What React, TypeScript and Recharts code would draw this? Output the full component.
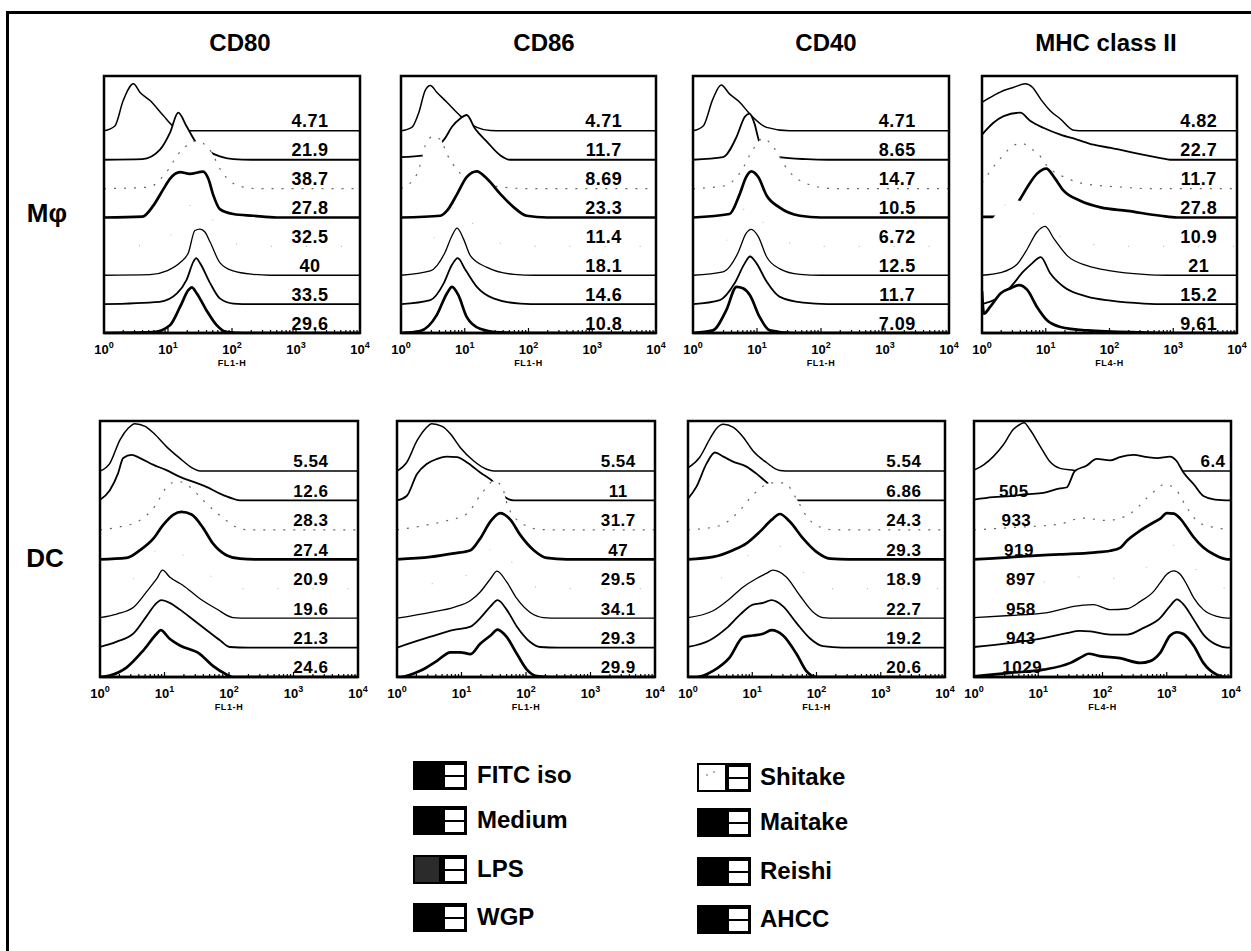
import React from 'react';
import { ComposedChart, Area, XAxis, YAxis, ReferenceDot, ReferenceArea } from 'recharts';

type Pt = [number, number];

const treatments = ['FITC iso', 'Medium', 'LPS', 'WGP', 'Shitake', 'Maitake', 'Reishi', 'AHCC'];
const markers = ['CD80', 'CD86', 'CD40', 'MHC class II'];
const channels = ['FL1-H', 'FL1-H', 'FL1-H', 'FL4-H'];
const cellTypes = ['Mφ', 'DC'];
const decades = [0, 1, 2, 3, 4];

// each curve: [log10 fluorescence, height in band units], listed top (FITC iso) to bottom (AHCC)
const mphCd80: Pt[][] = [
  [[0, 0], [0.17, 0.17], [0.3, 1.05], [0.46, 1.63], [0.56, 1.34], [0.72, 1.05], [0.93, 0.52], [1.08, 0.17], [1.34, 0], [4, 0]],
  [[0, 0], [0.6, 0.02], [0.875, 0.35], [1.03, 0.93], [1.16, 1.63], [1.29, 1.16], [1.45, 0.56], [1.63, 0.29], [1.81, 0.12], [2.02, 0.02], [2.3, 0], [4, 0]],
  [[0, 0], [0.7, 0.05], [0.95, 0.5], [1.2, 1.3], [1.45, 1.65], [1.65, 1.35], [1.85, 0.55], [2.1, 0.1], [2.4, 0], [4, 0]],
  [[0, 0], [0.6, 0.03], [0.77, 0.41], [0.93, 0.99], [1.03, 1.34], [1.19, 1.57], [1.34, 1.51], [1.55, 1.59], [1.63, 1.34], [1.71, 0.76], [1.81, 0.29], [2.02, 0.12], [2.33, 0.06], [2.7, 0], [4, 0]],
  [[0, 0], [0.8, 0.05], [1.05, 0.4], [1.25, 1.1], [1.45, 1.6], [1.6, 1.3], [1.8, 0.5], [2.05, 0.1], [2.4, 0], [4, 0]],
  [[0, 0], [0.72, 0.02], [0.98, 0.15], [1.19, 0.44], [1.32, 0.79], [1.42, 1.55], [1.5, 1.6], [1.58, 1.49], [1.66, 1.14], [1.81, 0.44], [2.02, 0.15], [2.33, 0.03], [2.6, 0], [4, 0]],
  [[0, 0], [0.87, 0.08], [1.14, 0.37], [1.29, 0.84], [1.4, 1.48], [1.44, 1.59], [1.5, 1.42], [1.66, 0.72], [1.81, 0.2], [2.02, 0.02], [2.3, 0], [4, 0]],
  [[0, 0], [0.77, 0.03], [1.03, 0.27], [1.19, 0.91], [1.32, 1.49], [1.37, 1.58], [1.45, 1.37], [1.6, 0.79], [1.76, 0.27], [1.92, 0.03], [2.2, 0], [4, 0]],
];
const mphCd80Labels = ['4.71', '21.9', '38.7', '27.8', '32.5', '40', '33.5', '29.6'];

const mphCd86: Pt[][] = [
  [[0, 0], [0.17, 0.12], [0.28, 0.64], [0.38, 1.4], [0.46, 1.57], [0.56, 1.34], [0.72, 0.99], [0.93, 0.52], [1.19, 0.12], [1.4, 0.01], [1.6, 0], [4, 0]],
  [[0, 0.09], [0.36, 0.15], [0.55, 0.4], [0.69, 0.74], [0.8, 1.14], [0.93, 1.43], [1.03, 1.55], [1.16, 1.08], [1.35, 0.62], [1.56, 0.15], [1.71, 0], [4, 0]],
  [[0, 0], [0.25, 0.5], [0.4, 1.6], [0.5, 1.8], [0.62, 1.7], [0.72, 1.2], [0.9, 0.6], [1.2, 0.2], [1.6, 0.05], [2, 0], [4, 0]],
  [[0, 0], [0.62, 0.06], [0.72, 0.23], [0.88, 0.81], [1.03, 1.4], [1.19, 1.6], [1.35, 1.34], [1.56, 0.81], [1.77, 0.35], [1.97, 0.06], [2.29, 0], [4, 0]],
  [[0, 0], [0.4, 0.1], [0.65, 0.7], [0.8, 1.3], [0.9, 1.55], [1.0, 1.3], [1.15, 0.7], [1.4, 0.25], [1.8, 0.03], [2.2, 0], [4, 0]],
  [[0, 0], [0.46, 0.15], [0.69, 0.79], [0.8, 1.37], [0.88, 1.63], [0.98, 1.26], [1.09, 0.67], [1.35, 0.27], [1.77, 0.03], [2.1, 0], [4, 0]],
  [[0, 0], [0.46, 0.14], [0.67, 0.72], [0.8, 1.36], [0.89, 1.59], [1.01, 1.19], [1.19, 0.6], [1.45, 0.2], [1.87, 0.02], [2.2, 0], [4, 0]],
  [[0, 0], [0.3, 0.07], [0.56, 0.62], [0.72, 1.37], [0.8, 1.6], [0.9, 1.31], [1.03, 0.56], [1.24, 0.15], [1.56, 0.02], [1.9, 0], [4, 0]],
];
const mphCd86Labels = ['4.71', '11.7', '8.69', '23.3', '11.4', '18.1', '14.6', '10.8'];

const mphCd40: Pt[][] = [
  [[0, 0], [0.16, 0.17], [0.31, 1.1], [0.44, 1.59], [0.57, 1.28], [0.73, 0.99], [0.89, 0.58], [1.15, 0.12], [1.51, 0], [4, 0]],
  [[0, 0], [0.47, 0.09], [0.68, 0.79], [0.81, 1.49], [0.88, 1.6], [0.96, 1.26], [1.03, 0.67], [1.17, 0.27], [1.35, 0.09], [1.77, 0.02], [2.1, 0], [4, 0]],
  [[0, 0], [0.5, 0.1], [0.75, 0.6], [0.95, 1.4], [1.1, 1.75], [1.25, 1.45], [1.5, 0.6], [1.8, 0.15], [2.2, 0], [4, 0]],
  [[0, 0], [0.57, 0.12], [0.73, 0.81], [0.83, 1.4], [0.91, 1.6], [1.02, 1.4], [1.15, 0.76], [1.35, 0.35], [1.67, 0.06], [2, 0], [4, 0]],
  [[0, 0], [0.45, 0.1], [0.68, 0.7], [0.82, 1.4], [0.9, 1.55], [1.0, 1.25], [1.15, 0.6], [1.4, 0.2], [1.8, 0.02], [2.2, 0], [4, 0]],
  [[0, 0], [0.47, 0.12], [0.7, 0.76], [0.83, 1.45], [0.91, 1.59], [1.02, 1.34], [1.15, 0.64], [1.35, 0.23], [1.67, 0.03], [2, 0], [4, 0]],
  [[0, 0], [0.42, 0.14], [0.65, 0.72], [0.81, 1.42], [0.89, 1.65], [0.99, 1.42], [1.15, 0.78], [1.35, 0.26], [1.72, 0.05], [2.1, 0], [4, 0]],
  [[0, 0], [0.31, 0.09], [0.52, 0.79], [0.68, 1.6], [0.78, 1.55], [0.89, 1.31], [1.04, 0.56], [1.2, 0.09], [1.56, 0], [4, 0]],
];
const mphCd40Labels = ['4.71', '8.65', '14.7', '10.5', '6.72', '12.5', '11.7', '7.09'];

const mphMhc: Pt[][] = [
  [[0, 0.99], [0.18, 1.22], [0.34, 1.4], [0.5, 1.51], [0.68, 1.63], [0.79, 1.51], [0.92, 1.1], [1.07, 0.7], [1.23, 0.41], [1.44, 0.02], [1.6, 0], [4, 0]],
  [[0, 0.87], [0.18, 1.28], [0.34, 1.51], [0.6, 1.63], [0.76, 1.34], [0.97, 1.1], [1.23, 0.87], [1.49, 0.7], [1.75, 0.52], [2.02, 0.41], [2.28, 0.29], [2.54, 0.17], [2.8, 0.06], [2.95, 0], [4, 0]],
  [[0, 0.2], [0.29, 1.05], [0.5, 1.5], [0.63, 1.57], [0.75, 1.4], [0.89, 1.19], [0.99, 0.87], [1.34, 0.35], [1.6, 0.17], [2.2, 0.05], [2.6, 0], [4, 0]],
  [[0, 0.02], [0.24, 0.02], [0.4, 0.2], [0.58, 0.58], [0.71, 1.05], [0.86, 1.51], [1.01, 1.69], [1.13, 1.4], [1.28, 0.93], [1.54, 0.58], [1.86, 0.35], [2.28, 0.23], [2.8, 0.06], [3.06, 0], [4, 0]],
  [[0, 0.5], [0.2, 1.05], [0.4, 1.5], [0.55, 1.6], [0.7, 1.4], [0.9, 0.9], [1.1, 0.5], [1.4, 0.2], [1.8, 0.05], [2.2, 0], [4, 0]],
  [[0, 0], [0.29, 0.09], [0.55, 0.38], [0.71, 0.91], [0.86, 1.49], [0.99, 1.69], [1.13, 1.26], [1.34, 0.67], [1.65, 0.33], [2.02, 0.15], [2.54, 0.03], [2.9, 0], [4, 0]],
  [[0, 0], [0.24, 0.2], [0.45, 0.6], [0.65, 1.13], [0.79, 1.42], [0.92, 1.63], [1.07, 1.07], [1.28, 0.6], [1.65, 0.26], [2.02, 0.12], [2.54, 0.02], [2.9, 0], [4, 0]],
  [[0, 1.45], [0.03, 0.67], [0.13, 0.91], [0.29, 1.37], [0.45, 1.55], [0.58, 1.66], [0.71, 1.49], [0.86, 0.91], [1.02, 0.44], [1.23, 0.21], [1.65, 0.09], [2.5, 0.02], [3, 0], [4, 0]],
];
const mphMhcLabels = ['4.82', '22.7', '11.7', '27.8', '10.9', '21', '15.2', '9.61'];

const dcCd80: Pt[][] = [
  [[0, 0], [0.15, 0.25], [0.31, 1.06], [0.44, 1.46], [0.54, 1.61], [0.7, 1.52], [0.83, 1.29], [1.03, 0.83], [1.24, 0.43], [1.45, 0.08], [1.55, 0], [4, 0]],
  [[0, 0.02], [0.15, 0.34], [0.28, 0.92], [0.36, 1.44], [0.49, 1.55], [0.62, 1.44], [0.83, 1.21], [1.03, 1.03], [1.24, 0.8], [1.45, 0.63], [1.65, 0.46], [1.86, 0.23], [2.06, 0.06], [2.17, 0], [4, 0]],
  [[0, 0], [0.3, 0.1], [0.6, 0.3], [0.85, 0.8], [1.05, 1.5], [1.2, 1.65], [1.4, 1.45], [1.6, 1.0], [1.8, 0.6], [2.0, 0.25], [2.2, 0.02], [2.4, 0], [4, 0]],
  [[0, 0], [0.41, 0.05], [0.62, 0.31], [0.83, 0.71], [0.98, 1.17], [1.14, 1.52], [1.26, 1.61], [1.42, 1.52], [1.6, 1.06], [1.75, 0.54], [1.96, 0.14], [2.17, 0.02], [2.4, 0], [4, 0]],
  [[0, 0], [0.3, 0.1], [0.55, 0.4], [0.75, 0.95], [0.92, 1.45], [1.0, 1.55], [1.15, 1.35], [1.35, 1.05], [1.6, 0.6], [1.85, 0.25], [2.1, 0.02], [2.3, 0], [4, 0]],
  [[0, 0.02], [0.26, 0.14], [0.52, 0.37], [0.72, 0.89], [0.88, 1.34], [0.97, 1.63], [1.08, 1.4], [1.29, 1.11], [1.55, 0.66], [1.81, 0.31], [2.06, 0.02], [2.3, 0], [4, 0]],
  [[0, 0.02], [0.26, 0.2], [0.52, 0.48], [0.72, 1.06], [0.88, 1.52], [0.95, 1.61], [1.08, 1.52], [1.24, 1.29], [1.45, 0.94], [1.65, 0.6], [1.86, 0.25], [2.01, 0.02], [2.3, 0], [4, 0]],
  [[0, 0], [0.15, 0.05], [0.41, 0.32], [0.67, 0.9], [0.88, 1.47], [0.94, 1.59], [1.08, 1.3], [1.24, 1.07], [1.55, 0.78], [1.75, 0.38], [1.96, 0.09], [2.06, 0], [4, 0]],
];
const dcCd80Labels = ['5.54', '12.6', '28.3', '27.4', '20.9', '19.6', '21.3', '24.6'];

const dcCd86: Pt[][] = [
  [[0, 0], [0.15, 0.29], [0.31, 1.03], [0.44, 1.44], [0.54, 1.61], [0.7, 1.52], [0.83, 1.26], [0.98, 0.8], [1.19, 0.34], [1.39, 0.06], [1.5, 0], [4, 0]],
  [[0, 0], [0.15, 0.15], [0.31, 0.9], [0.46, 1.24], [0.62, 1.41], [0.77, 1.49], [0.93, 1.47], [1.08, 1.3], [1.29, 0.95], [1.52, 0.57], [1.65, 0.15], [1.81, 0], [4, 0]],
  [[0, 0], [0.4, 0.14], [0.77, 0.31], [1.08, 0.54], [1.3, 1.2], [1.5, 1.65], [1.62, 1.5], [1.72, 0.8], [1.95, 0.2], [2.2, 0.02], [2.4, 0], [4, 0]],
  [[0, 0], [0.52, 0.08], [0.88, 0.2], [1.14, 0.31], [1.29, 0.71], [1.45, 1.29], [1.6, 1.57], [1.76, 1.34], [1.91, 0.83], [2.12, 0.31], [2.32, 0.05], [2.63, 0], [4, 0]],
  [[0, 0], [0.5, 0.15], [0.9, 0.35], [1.15, 0.55], [1.3, 0.9], [1.45, 1.35], [1.56, 1.55], [1.7, 1.2], [1.86, 0.6], [2.06, 0.15], [2.3, 0], [4, 0]],
  [[0, 0], [0.52, 0.2], [0.88, 0.37], [1.14, 0.6], [1.29, 0.89], [1.45, 1.34], [1.55, 1.6], [1.7, 1.23], [1.86, 0.66], [2.06, 0.2], [2.27, 0.02], [2.5, 0], [4, 0]],
  [[0, 0], [0.52, 0.37], [0.88, 0.6], [1.14, 0.71], [1.29, 1.0], [1.45, 1.4], [1.56, 1.61], [1.7, 1.29], [1.86, 0.71], [2.06, 0.2], [2.22, 0.02], [2.5, 0], [4, 0]],
  [[0, 0], [0.05, 0], [0.36, 0.21], [0.62, 0.55], [0.83, 0.84], [0.98, 0.84], [1.14, 0.78], [1.29, 1.13], [1.45, 1.41], [1.56, 1.61], [1.7, 1.36], [1.86, 0.78], [2.01, 0.26], [2.17, 0.03], [2.4, 0], [4, 0]],
];
const dcCd86Labels = ['5.54', '11', '31.7', '47', '29.5', '34.1', '29.3', '29.9'];

const dcCd40: Pt[][] = [
  [[0, 0.11], [0.18, 0.46], [0.34, 1.09], [0.44, 1.44], [0.55, 1.59], [0.7, 1.49], [0.86, 1.15], [1.01, 0.69], [1.22, 0.29], [1.43, 0.02], [1.6, 0], [4, 0]],
  [[0, 0.06], [0.13, 0.46], [0.29, 1.26], [0.42, 1.63], [0.55, 1.49], [0.7, 1.32], [0.91, 1.15], [1.06, 0.92], [1.25, 0.57], [1.45, 0.3], [1.58, 0.06], [1.66, 0], [4, 0]],
  [[0, 0], [0.49, 0.14], [0.78, 0.6], [1.04, 1.25], [1.3, 1.6], [1.5, 1.6], [1.69, 1.05], [1.85, 0.45], [2.05, 0.1], [2.3, 0], [4, 0]],
  [[0, 0], [0.39, 0.08], [0.7, 0.31], [0.91, 0.54], [1.12, 0.94], [1.3, 1.34], [1.43, 1.54], [1.58, 1.29], [1.79, 0.71], [2.0, 0.25], [2.21, 0.02], [2.5, 0], [4, 0]],
  [[0, 0], [0.4, 0.2], [0.65, 0.6], [0.86, 1.0], [1.06, 1.3], [1.22, 1.45], [1.32, 1.5], [1.53, 1.3], [1.74, 0.7], [1.95, 0.2], [2.2, 0], [4, 0]],
  [[0, 0.02], [0.39, 0.25], [0.65, 0.66], [0.86, 1.06], [1.06, 1.34], [1.22, 1.52], [1.32, 1.63], [1.53, 1.4], [1.74, 0.77], [1.95, 0.2], [2.1, 0.02], [2.3, 0], [4, 0]],
  [[0, 0.02], [0.34, 0.25], [0.6, 0.66], [0.81, 1.12], [1.01, 1.46], [1.17, 1.52], [1.3, 1.61], [1.48, 1.4], [1.69, 0.83], [1.9, 0.31], [2.1, 0.05], [2.4, 0], [4, 0]],
  [[0, 0], [0.13, 0], [0.39, 0.21], [0.65, 0.67], [0.86, 1.36], [1.01, 1.41], [1.17, 1.47], [1.3, 1.59], [1.48, 1.41], [1.69, 0.78], [1.84, 0.21], [2.0, 0], [4, 0]],
];
const dcCd40Labels = ['5.54', '6.86', '24.3', '29.3', '18.9', '22.7', '19.2', '20.6'];

const dcMhc: Pt[][] = [
  [[0, 0.03], [0.15, 0.21], [0.3, 0.49], [0.46, 0.9], [0.61, 1.41], [0.72, 1.59], [0.78, 1.64], [0.87, 1.41], [1.03, 0.84], [1.18, 0.32], [1.34, 0.09], [1.55, 0.03], [1.65, 0], [4, 0]],
  [[0, 0.03], [0.3, 0.11], [0.56, 0.15], [0.82, 0.21], [1.08, 0.26], [1.34, 0.41], [1.44, 0.44], [1.57, 1.0], [1.75, 1.18], [1.91, 1.41], [2.12, 1.36], [2.27, 1.47], [2.48, 1.55], [2.7, 1.47], [2.85, 1.44], [3.05, 1.49], [3.15, 1.35], [3.26, 0.95], [3.42, 0.55], [3.57, 0.15], [3.75, 0.03], [4, 0]],
  [[0, 0], [0.6, 0.08], [1.34, 0.2], [1.68, 0.4], [2.07, 0.32], [2.43, 0.55], [2.75, 1.2], [2.97, 1.55], [3.15, 1.35], [3.3, 0.8], [3.5, 0.25], [3.75, 0.08], [4, 0]],
  [[0, 0], [0.3, 0.03], [0.82, 0.11], [1.34, 0.17], [1.86, 0.23], [2.12, 0.29], [2.28, 0.4], [2.38, 0.63], [2.59, 0.98], [2.8, 1.26], [2.9, 1.38], [3.0, 1.57], [3.11, 1.55], [3.21, 1.38], [3.31, 1.09], [3.42, 0.75], [3.57, 0.4], [3.73, 0.17], [3.94, 0], [4, 0]],
  [[0, 0.05], [1.0, 0.2], [1.6, 0.4], [2.1, 0.35], [2.6, 0.6], [3.0, 1.3], [3.15, 1.5], [3.3, 1.2], [3.5, 0.5], [3.75, 0.1], [4, 0]],
  [[0, 0.02], [0.56, 0.09], [1.08, 0.17], [1.34, 0.29], [1.55, 0.4], [1.86, 0.46], [2.12, 0.29], [2.38, 0.32], [2.59, 0.57], [2.8, 0.92], [2.9, 1.21], [3.0, 1.49], [3.11, 1.61], [3.21, 1.49], [3.31, 1.15], [3.42, 0.69], [3.57, 0.29], [3.78, 0.06], [3.94, 0], [4, 0]],
  [[0, 0.02], [0.56, 0.15], [1.08, 0.32], [1.44, 0.49], [1.65, 0.57], [1.81, 0.55], [2.12, 0.44], [2.38, 0.44], [2.64, 0.67], [2.9, 1.01], [3.05, 1.41], [3.16, 1.64], [3.26, 1.47], [3.42, 0.95], [3.57, 0.44], [3.78, 0.09], [3.94, 0], [4, 0]],
  [[0, 0.02], [0.56, 0.14], [1.08, 0.25], [1.5, 0.48], [1.7, 0.71], [1.78, 0.79], [1.96, 0.71], [2.27, 0.64], [2.59, 0.48], [2.74, 0.54], [2.9, 0.83], [3.05, 1.4], [3.16, 1.52], [3.26, 1.46], [3.42, 1.06], [3.57, 0.48], [3.78, 0.08], [3.94, 0], [4, 0]],
];
const dcMhcLabels = ['6.4', '505', '933', '919', '897', '958', '943', '1029'];

// where the numbers sit along the x axis (decades)
const mphLabelX = [3.22, 3.18, 3.19, 3.4];
const dcLabelX = [3.27, 3.43, 3.36];
const dcMhcLabelX = [3.72, 0.62, 0.66, 0.7, 0.73, 0.73, 0.73, 0.75];

const FONT = '"Liberation Sans", Arial, Helvetica, sans-serif';

const lineStyles: { w: number; color?: string; dash?: string }[] = [
  { w: 1.5 },
  { w: 1.8 },
  { w: 1.2, color: '#666', dash: '2 8' },
  { w: 2.7 },
  { w: 1, color: '#aaa', dash: '1 34' },
  { w: 1.3 },
  { w: 1.8 },
  { w: 2.7 },
];

const minorTicks: number[] = [];
for (let d = 0; d < 4; d++) {
  for (let k = 2; k <= 9; k++) minorTicks.push(d + Math.log10(k));
}
const allTicks = [...decades, ...minorTicks].sort((a, b) => a - b);

const LogTick = (props: any) => {
  const { x, y, payload } = props;
  const v = payload.value;
  const major = Math.abs(v - Math.round(v)) < 1e-6;
  return (
    <g>
      <line x1={x} x2={x} y1={y} y2={y - (major ? 5 : 3)} stroke="#000" strokeWidth={1.2} />
      {major && (
        <text x={x} y={y + 21} textAnchor="middle" fontSize={13} fontWeight={700} fontFamily={FONT} fill="#000">
          10<tspan dy={-6} fontSize={9}>{Math.round(v)}</tspan>
        </text>
      )}
    </g>
  );
};

interface PanelProps {
  curves: Pt[][];
  labels: string[];
  labelX: number[];
  channel: string;
  left: number;
  top: number;
  width: number;
  height: number;
  yMax: number;
  labelSize: number;
}

function Panel({ curves, labels, labelX, channel, left, top, width, height, yMax, labelSize }: PanelProps) {
  const m = 10;
  const n = curves.length;
  return (
    <div style={{ position: 'absolute', left: left - m, top: top - m }}>
      <ComposedChart width={width + 2 * m} height={height + m + 42} margin={{ top: m, right: m, bottom: 0, left: m }}>
        <XAxis
          dataKey="x"
          type="number"
          domain={[0, 4]}
          allowDataOverflow
          ticks={allTicks}
          interval={0}
          tickSize={0}
          tickMargin={0}
          tickLine={false}
          tick={<LogTick />}
          height={42}
          axisLine={{ stroke: '#000', strokeWidth: 2.5 }}
          label={{ value: channel, position: 'insideBottom', offset: 9, fontSize: 9, fontWeight: 700, fill: '#000', fontFamily: FONT, letterSpacing: 0.6 }}
        />
        <YAxis type="number" domain={[0, yMax]} allowDataOverflow hide />
        {curves.map((pts, i) => {
          const base = n - 1 - i;
          const st = lineStyles[i];
          return (
            <Area
              key={treatments[i]}
              name={treatments[i]}
              data={pts.map(([x, h]) => ({ x, y: base + h }))}
              dataKey="y"
              type="monotone"
              baseValue={base}
              fill="#fff"
              fillOpacity={1}
              stroke={st.color ?? '#000'}
              strokeWidth={st.w}
              strokeDasharray={st.dash}
              dot={false}
              activeDot={false}
              isAnimationActive={false}
            />
          );
        })}
        {labels.map((t, i) => (
          <ReferenceDot
            key={'lab' + i}
            x={labelX[i]}
            y={n - 1 - i + 0.12}
            r={0}
            ifOverflow="visible"
            shape={(p: any) => (
              <text x={p.cx} y={p.cy} textAnchor="middle" fontSize={labelSize} fontWeight={700} fontFamily={FONT} fill="#000" letterSpacing={0.5}>
                {t}
              </text>
            )}
          />
        ))}
        <ReferenceArea x1={0} x2={4} y1={0} y2={yMax} ifOverflow="visible" fill="none" fillOpacity={0} stroke="#000" strokeWidth={2.5} />
      </ComposedChart>
    </div>
  );
}

function LegendIcon({ idx }: { idx: number }) {
  const light = treatments[idx] === 'Shitake';
  const speckle = treatments[idx] === 'LPS';
  return (
    <svg width={54} height={29} style={{ display: 'block' }}>
      <rect x={0} y={0} width={54} height={29} fill="#000" />
      {light && <rect x={2} y={2} width={26} height={25} fill="#fff" />}
      {light && <circle cx={10} cy={12} r={0.8} fill="#555" />}
      {light && <circle cx={17} cy={9} r={0.8} fill="#555" />}
      {speckle && <rect x={2} y={2} width={24} height={25} fill="#2b2b2b" />}
      <rect x={32} y={4} width={19} height={10} fill="#fff" />
      <rect x={32} y={16} width={19} height={10} fill="#fff" />
    </svg>
  );
}

const mphCurves = [mphCd80, mphCd86, mphCd40, mphMhc];
const mphLabels = [mphCd80Labels, mphCd86Labels, mphCd40Labels, mphMhcLabels];
const dcCurves = [dcCd80, dcCd86, dcCd40, dcMhc];
const dcLabels = [dcCd80Labels, dcCd86Labels, dcCd40Labels, dcMhcLabels];

const mphLeft = [104, 401, 693, 982];
const mphWidth = [256, 255, 256, 255];
const dcLeft = [100, 397, 688, 974];
const dcWidth = [258, 258, 257, 257];
const titleX = [240, 544, 826, 1106];

const legendCols = [
  { iconX: 413, textX: 477, tops: [761, 806, 855, 903] },
  { iconX: 697, textX: 760, tops: [763, 808, 857, 905] },
];

export default function App() {
  return (
    <div style={{ position: 'absolute', left: 0, top: 0, width: 1251, height: 951, background: '#fff', overflow: 'hidden', fontFamily: FONT }}>
      <div style={{ position: 'absolute', left: 6, top: 11, width: 1251, height: 951, borderLeft: '3px solid #000', borderTop: '3px solid #000' }} />

      {markers.map((m, i) => (
        <div key={m} style={{ position: 'absolute', left: titleX[i] - 100, width: 200, top: 28, textAlign: 'center', fontSize: 24, fontWeight: 700, lineHeight: '30px' }}>
          {m}
        </div>
      ))}

      <div style={{ position: 'absolute', left: 17, width: 60, top: 197, textAlign: 'center', fontSize: 26, fontWeight: 700, lineHeight: '32px' }}>{cellTypes[0]}</div>
      <div style={{ position: 'absolute', left: 15, width: 60, top: 542, textAlign: 'center', fontSize: 26, fontWeight: 700, lineHeight: '32px' }}>{cellTypes[1]}</div>

      {mphCurves.map((c, i) => (
        <Panel
          key={'m' + i}
          curves={c}
          labels={mphLabels[i]}
          labelX={mphLabels[i].map(() => mphLabelX[i])}
          channel={channels[i]}
          left={mphLeft[i]}
          top={76}
          width={mphWidth[i]}
          height={257}
          yMax={8.9}
          labelSize={18}
        />
      ))}

      {dcCurves.map((c, i) => (
        <Panel
          key={'d' + i}
          curves={c}
          labels={dcLabels[i]}
          labelX={i === 3 ? dcMhcLabelX : dcLabels[i].map(() => dcLabelX[i])}
          channel={channels[i]}
          left={dcLeft[i]}
          top={421}
          width={dcWidth[i]}
          height={256}
          yMax={8.7}
          labelSize={17}
        />
      ))}

      {legendCols.map((col, ci) =>
        col.tops.map((t, ri) => {
          const idx = ci * 4 + ri;
          return (
            <React.Fragment key={treatments[idx]}>
              <div style={{ position: 'absolute', left: col.iconX, top: t }}>
                <LegendIcon idx={idx} />
              </div>
              <div style={{ position: 'absolute', left: col.textX, top: t - 2, fontSize: 24, fontWeight: 700, lineHeight: '32px', whiteSpace: 'nowrap' }}>
                {treatments[idx]}
              </div>
            </React.Fragment>
          );
        })
      )}
    </div>
  );
}
